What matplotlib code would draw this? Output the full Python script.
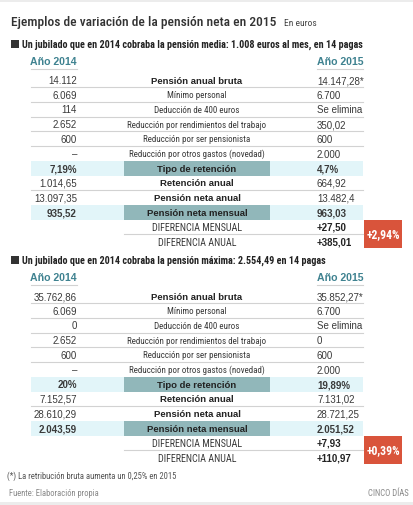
import matplotlib
matplotlib.use('Agg')
import matplotlib.pyplot as plt
from matplotlib.patches import Rectangle
from matplotlib import font_manager

NAMES = {f.name for f in font_manager.fontManager.ttflist}
COND = next(n for n in ['Roboto Condensed', 'Archivo Narrow', 'Barlow Semi Condensed', 'DejaVu Sans'] if n in NAMES)
WIDE = 'Liberation Sans' if 'Liberation Sans' in NAMES else 'DejaVu Sans'
plt.rcParams['font.family'] = [WIDE, 'DejaVu Sans']

TITLE = 'Ejemplos de variación de la pensión neta en 2015'
SUBTITLE = 'En euros'
HEADERS = ['Un jubilado que en 2014 cobraba la pensión media: 1.008 euros al mes, en 14 pagas',
           'Un jubilado que en 2014 cobraba la pensión máxima: 2.554,49 en 14 pagas']
YEARS = ['Año 2014', 'Año 2015']
LABELS = ['Pensión anual bruta', 'Mínimo personal', 'Deducción de 400 euros',
          'Reducción por rendimientos del trabajo', 'Reducción por ser pensionista',
          'Reducción por otros gastos (novedad)', 'Tipo de retención', 'Retención anual',
          'Pensión neta anual', 'Pensión neta mensual']
BOLD_ROWS = [0, 6, 7, 8, 9]
SHADED_ROWS = [6, 9]
MEDIA_2014 = ['14.112', '6.069', '114', '2.652', '600', '–', '7,19%', '1.014,65', '13.097,35', '935,52']
MEDIA_2015 = ['14.147,28*', '6.700', 'Se elimina', '350,02', '600', '2.000', '4,7%', '664,92', '13.482,4', '963,03']
MAXIMA_2014 = ['35.762,86', '6.069', '0', '2.652', '600', '–', '20%', '7.152,57', '28.610,29', '2.043,59']
MAXIMA_2015 = ['35.852,27*', '6.700', 'Se elimina', '0', '600', '2.000', '19,89%', '7.131,02', '28.721,25', '2.051,52']
DIFF_LABELS = ['DIFERENCIA MENSUAL', 'DIFERENCIA ANUAL']
MEDIA_DIFF = ['+27,50', '+385,01']
MAXIMA_DIFF = ['+7,93', '+110,97']
MEDIA_PCT = '+2,94%'
MAXIMA_PCT = '+0,39%'
NOTE = '(*) La retribución bruta aumenta un 0,25% en 2015'
SOURCE = 'Fuente: Elaboración propia'
BRAND = 'CINCO DÍAS'

TEAL = '#3f8290'
SHADE = '#e2f5f9'
MIDBOX = '#91b7ba'
RED = '#d9543b'
LINE = '#d2d2d2'
DARK = '#222222'
GREY = '#3a3a3a'
CF = [COND, 'DejaVu Sans']

fig = plt.figure(figsize=(4.14, 5.06), dpi=100)
ax = fig.add_axes([0, 0, 1, 1])
ax.set_xlim(0, 414)
ax.set_ylim(506, 0)
ax.axis('off')

ax.add_patch(Rectangle((0, 0), 414, 3, color='#ececec', lw=0))
ax.add_patch(Rectangle((0, 503), 414, 3, color='#ececec', lw=0))

ax.text(11, 22, TITLE, fontsize=9.7, family=CF, weight='medium', color='#333333', va='center', ha='left')
ax.text(284, 23, SUBTITLE, fontsize=6.8, family=CF, color='#444444', va='center', ha='left')

STEP = 14.7
XL, XM, XR = 77, 197, 317
X0, X1 = 31, 363
MX0, MX1 = 124, 270


def draw_section(top, header, left, right, diffs, pct):
    ax.add_patch(Rectangle((11, top - 4), 8, 8, color='#333333', lw=0))
    ax.text(22, top, header, fontsize=7.3, family=CF, weight='bold', color=DARK, va='center', ha='left')
    yh = top + 17
    ax.text(XL, yh, YEARS[0], fontsize=7.6, weight='bold', color=TEAL, va='center', ha='right')
    ax.text(XR, yh, YEARS[1], fontsize=7.6, weight='bold', color=TEAL, va='center', ha='left')
    ax.plot([X0, XL], [yh + 8, yh + 8], color=LINE, lw=0.8)
    ax.plot([XR, X1], [yh + 8, yh + 8], color=LINE, lw=0.8)
    y = top + 36
    for i, lab in enumerate(LABELS):
        yc = y + i * STEP
        if i in SHADED_ROWS:
            ax.add_patch(Rectangle((X0, yc - STEP / 2), X1 - X0, STEP, color=SHADE, lw=0))
            ax.add_patch(Rectangle((MX0, yc - STEP / 2), MX1 - MX0, STEP, color=MIDBOX, lw=0))
        elif i + 1 not in SHADED_ROWS and i < len(LABELS) - 1:
            ax.plot([X0, X1], [yc + STEP / 2, yc + STEP / 2], color=LINE, lw=0.8)
        vb = 'bold' if i in SHADED_ROWS else 'normal'
        ax.text(XL, yc, left[i], fontsize=7, weight=vb, color=GREY, va='center', ha='right')
        ax.text(XR, yc, right[i], fontsize=7, weight=vb, color=GREY, va='center', ha='left')
        if i in BOLD_ROWS:
            ax.text(XM, yc, lab, fontsize=6.8, weight='bold', color=DARK, va='center', ha='center')
        else:
            ax.text(XM, yc, lab, fontsize=6.5, family=CF, color=GREY, va='center', ha='center')
    yd = y + len(LABELS) * STEP
    for j, lab in enumerate(DIFF_LABELS):
        yc = yd + j * STEP
        ax.text(XM, yc, lab, fontsize=7.2, family=CF, color=GREY, va='center', ha='center')
        ax.text(XR, yc, diffs[j], fontsize=7, weight='bold', color=DARK, va='center', ha='left')
    ax.plot([MX0, X1], [yd + STEP / 2, yd + STEP / 2], color=LINE, lw=0.8)
    ax.add_patch(Rectangle((364, yd - 7), 38, 27.5, color=RED, lw=0))
    ax.text(383, yd + 6.5, pct, fontsize=8.5, family=CF, weight='bold', color='white', va='center', ha='center')


draw_section(45, HEADERS[0], MEDIA_2014, MEDIA_2015, MEDIA_DIFF, MEDIA_PCT)
draw_section(261, HEADERS[1], MAXIMA_2014, MAXIMA_2015, MAXIMA_DIFF, MAXIMA_PCT)

ax.text(7, 476, NOTE, fontsize=6.2, family=CF, color='#555555', va='center', ha='left')
ax.text(9, 494, SOURCE, fontsize=6.2, family=CF, color='#8a8a8a', va='center', ha='left')
ax.text(409, 494, BRAND, fontsize=6.2, family=CF, color='#8a8a8a', va='center', ha='right')

fig.savefig('out.png', dpi=100, facecolor='white')
